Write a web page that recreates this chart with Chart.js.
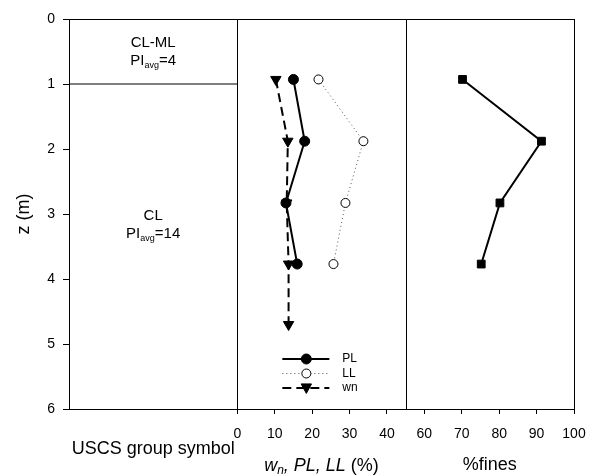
<!DOCTYPE html>
<html><head><meta charset="utf-8">
<script src="https://cdn.jsdelivr.net/npm/chart.js@4/dist/chart.umd.min.js"></script>
<style>html,body{margin:0;padding:0;background:#fff}</style>
</head><body>
<canvas id="c" width="595" height="476"></canvas>
<script>
// ---- data ----
const depthLab    = [0.93, 1.88, 2.83, 3.77];          // z (m) of lab samples
const plValues    = [15.0, 18.0, 13.0, 16.0];          // PL (%)
const llValues    = [21.7, 33.7, 28.9, 25.7];          // LL (%)
const wnDepth     = [0.93, 1.88, 2.83, 3.77, 4.70];    // z (m) for wn
const wnValues    = [10.3, 13.5, 13.2, 13.7, 13.7];    // wn (%)
const finesValues = [70.2, 91.3, 80.2, 75.2];          // %fines
const depthTicks  = [0, 1, 2, 3, 4, 5, 6];
const limitTicks  = [0, 10, 20, 30, 40];
const finesTicks  = [60, 70, 80, 90, 100];
const layerNames  = ['CL-ML', 'CL'];
const layerPI     = [4, 14];
const layerLabelZ = [0.5, 3.16];
const layerBounds = [1];

const FONT = "'Liberation Sans', Arial, Helvetica, sans-serif";
Chart.defaults.font.family = FONT;
Chart.defaults.color = '#000';

const pts = (xs, ys) => xs.map((v, i) => ({x: v, y: ys[i]}));

const datasets = [
  {label: 'PL', xAxisID: 'xm', data: pts(plValues, depthLab),
   borderColor: '#000', backgroundColor: '#000', borderWidth: 2,
   pointStyle: 'circle', pointRadius: 5, pointBackgroundColor: '#000', pointBorderColor: '#000', pointBorderWidth: 1},
  {label: 'LL', xAxisID: 'xm', data: pts(llValues, depthLab),
   borderColor: '#555', borderWidth: 1, borderDash: [1, 3],
   pointStyle: 'circle', pointRadius: 4.5, pointBackgroundColor: '#fff', pointBorderColor: '#000', pointBorderWidth: 1},
  {label: 'wn', xAxisID: 'xm', data: pts(wnValues, wnDepth),
   borderColor: '#000', borderWidth: 2, borderDash: [9, 5],
   pointStyle: 'triangle', pointRotation: 180, pointRadius: 6, pointBackgroundColor: '#000', pointBorderColor: '#000', pointBorderWidth: 1},
  {label: 'fines', xAxisID: 'xf', data: pts(finesValues, depthLab),
   borderColor: '#000', borderWidth: 2,
   pointStyle: 'rect', pointRadius: 5.5, pointBackgroundColor: '#000', pointBorderColor: '#000', pointBorderWidth: 1},
];
layerBounds.forEach(z => datasets.push({
  label: 'boundary', xAxisID: 'xu', data: [{x: 0, y: z}, {x: 1, y: z}],
  borderColor: '#000', borderWidth: 1, pointRadius: 0
}));

const setTicks = arr => scale => { scale.ticks = arr.map(v => ({value: v})); };
const fixH = scale => { scale.height = 67; scale.paddingLeft = 0; scale.paddingRight = 0; };

function drawPI(ctx, x, y, val) {
  const big = '15px ' + FONT, small = '9px ' + FONT;
  ctx.font = big; const w1 = ctx.measureText('PI').width;
  ctx.font = small; const w2 = ctx.measureText('avg').width;
  ctx.font = big; const w3 = ctx.measureText('=' + val).width;
  let sx = x - (w1 + w2 + w3) / 2;
  ctx.textAlign = 'left'; ctx.textBaseline = 'middle';
  ctx.font = big; ctx.fillText('PI', sx, y); sx += w1;
  ctx.font = small; ctx.fillText('avg', sx, y + 5); sx += w2;
  ctx.font = big; ctx.fillText('=' + val, sx, y);
}

function marker(ctx, ds, x, y) {
  ctx.save();
  ctx.setLineDash([]);
  ctx.fillStyle = ds.pointBackgroundColor; ctx.strokeStyle = ds.pointBorderColor; ctx.lineWidth = ds.pointBorderWidth;
  const r = ds.pointRadius;
  ctx.beginPath();
  if (ds.pointStyle === 'circle') ctx.arc(x, y, r, 0, Math.PI * 2);
  else if (ds.pointStyle === 'triangle') {
    const s = r * 1.5;
    ctx.moveTo(x - s * 0.577, y - s / 2.2); ctx.lineTo(x + s * 0.577, y - s / 2.2); ctx.lineTo(x, y + s * 0.6); ctx.closePath();
  }
  ctx.fill(); ctx.stroke();
  ctx.restore();
}

const panelPlugin = {
  id: 'panels',
  beforeDatasetsDraw(chart) {
    const {ctx, chartArea: a} = chart;
    ctx.save(); ctx.strokeStyle = '#000'; ctx.lineWidth = 1;
    const xs = new Set();
    ['xu', 'xm', 'xf'].forEach(id => { const s = chart.scales[id]; xs.add(Math.round(s.left)); xs.add(Math.round(s.right)); });
    const t = Math.round(a.top) + 0.5, b = Math.round(a.bottom) + 0.5;
    ctx.beginPath();
    xs.forEach(x => { ctx.moveTo(x + 0.5, t); ctx.lineTo(x + 0.5, b); });
    ctx.moveTo(Math.round(a.left), t); ctx.lineTo(Math.round(a.right) + 1, t);
    ctx.stroke();
    ctx.restore();
  },
  afterDraw(chart) {
    const {ctx, chartArea: a} = chart;
    const xu = chart.scales.xu, xm = chart.scales.xm, y = chart.scales.y;
    ctx.save();
    ctx.fillStyle = '#000';
    layerNames.forEach((n, i) => {
      const cx = (xu.left + xu.right) / 2, cy = y.getPixelForValue(layerLabelZ[i]);
      ctx.font = '15px ' + FONT; ctx.textAlign = 'center'; ctx.textBaseline = 'middle';
      ctx.fillText(n, cx, cy - 9);
      drawPI(ctx, cx, cy + 9, layerPI[i]);
    });
    {
      const big = 'italic 18px ' + FONT, sub = 'italic 12px ' + FONT, nor = '18px ' + FONT;
      const parts = [['w', big, 0], ['n', sub, 5], [', PL, LL', big, 0], [' (%)', nor, 0]];
      let tw = 0; parts.forEach(p => { ctx.font = p[1]; p.push(ctx.measureText(p[0]).width); tw += p[3]; });
      let sx = (xm.left + xm.right) / 2 - tw / 2; const ty = 466;
      ctx.textAlign = 'left'; ctx.textBaseline = 'middle';
      parts.forEach(p => { ctx.font = p[1]; ctx.fillText(p[0], sx, ty + p[2]); sx += p[3]; });
    }
    const order = [0, 1, 2];
    const lx = xm.left + 45, ly = a.bottom - 50;
    order.forEach((di, k) => {
      const ds = chart.data.datasets[di];
      const yy = ly + k * 14.5;
      ctx.save();
      ctx.strokeStyle = ds.borderColor; ctx.lineWidth = ds.borderWidth;
      ctx.setLineDash(ds.borderDash || []);
      ctx.beginPath(); ctx.moveTo(lx, yy); ctx.lineTo(lx + 47, yy); ctx.stroke();
      ctx.restore();
      marker(ctx, ds, lx + 24, yy);
      ctx.fillStyle = '#000'; ctx.font = '12px ' + FONT; ctx.textAlign = 'left'; ctx.textBaseline = 'middle';
      ctx.fillText(ds.label, lx + 60, yy);
    });
    ctx.restore();
  }
};

const gridOpts = {display: true, drawOnChartArea: false, color: '#000', tickLength: 5, tickWidth: 1};
const borderOpts = {display: true, color: '#000', width: 1};
const xTickOpts = {font: {size: 14}, padding: 12, color: '#000', maxRotation: 0, autoSkip: false};

new Chart(document.getElementById('c'), {
  type: 'line',
  data: {datasets},
  options: {
    responsive: false, animation: false,
    layout: {padding: {left: 0, top: 19, right: 21, bottom: 0}},
    plugins: {legend: {display: false}, tooltip: {enabled: false}},
    elements: {line: {tension: 0}},
    scales: {
      y: {type: 'linear', position: 'left', reverse: true, min: 0, max: 6,
          afterBuildTicks: setTicks(depthTicks),
          afterFit: s => { s.width = 69; s.paddingTop = 0; s.paddingBottom = 0; },
          grid: {...gridOpts, tickLength: 6}, border: borderOpts,
          ticks: {font: {size: 14}, padding: 8, color: '#000', autoSkip: false},
          title: {display: true, text: 'z (m)', font: {size: 18}, padding: {top: 13, bottom: 0}, color: '#000'}},
      xu: {type: 'linear', position: 'bottom', stack: 'bot', stackWeight: 1, min: 0, max: 1,
           afterFit: fixH,
           grid: {display: false}, border: borderOpts, ticks: {display: false},
           title: {display: true, text: 'USCS group symbol', font: {size: 18}, padding: {top: 0, bottom: 16}, color: '#000'}},
      xm: {type: 'linear', position: 'bottom', stack: 'bot', stackWeight: 1, min: 0, max: 45,
           afterBuildTicks: setTicks(limitTicks), afterFit: fixH,
           grid: gridOpts, border: borderOpts, ticks: xTickOpts},
      xf: {type: 'linear', position: 'bottom', stack: 'bot', stackWeight: 1, min: 55, max: 100,
           afterBuildTicks: setTicks(finesTicks), afterFit: fixH,
           grid: gridOpts, border: borderOpts, ticks: xTickOpts,
           title: {display: true, text: '%fines', font: {size: 18}, padding: {top: 0, bottom: 0}, color: '#000'}}
    }
  },
  plugins: [panelPlugin]
});
</script>
</body></html>
